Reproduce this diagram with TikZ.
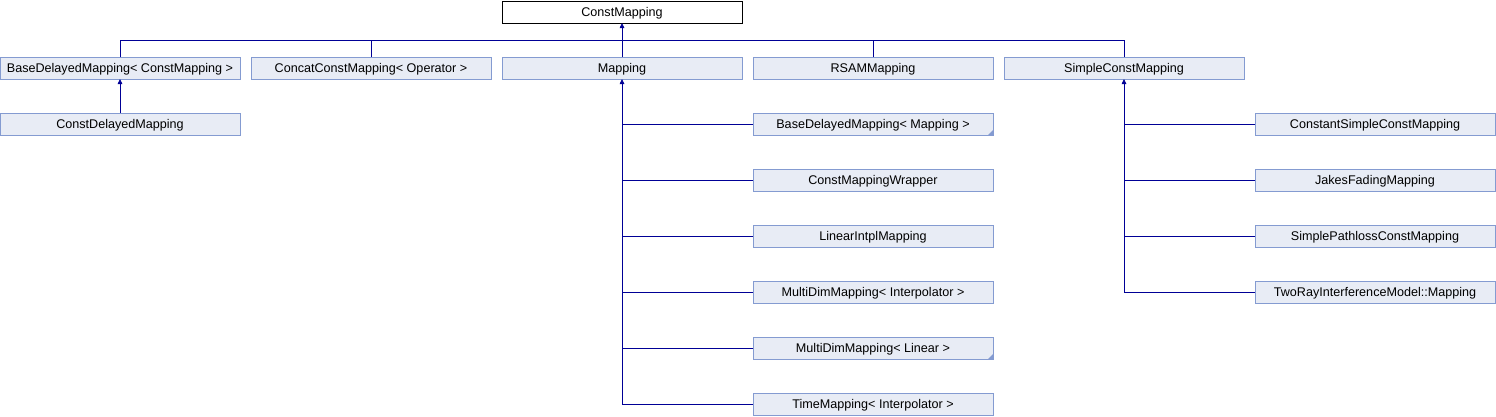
\documentclass[tikz,border=0pt]{standalone}
\usepackage{fontspec}
\usepackage{tikz}
\usetikzlibrary{positioning,arrows.meta}
\newfontfamily\dxfont{Liberation Sans}
\definecolor{dxFill}{RGB}{232,236,245}
\definecolor{dxBorder}{RGB}{132,155,209}
\definecolor{dxLine}{RGB}{0,0,150}

\begin{document}
\begin{tikzpicture}[
    x=1pt, y=-1pt,
    node distance=11pt,
    class node/.style={rectangle, draw=dxBorder, fill=dxFill, line width=0.8pt, minimum width=240pt, minimum height=22pt, inner sep=0pt, outer sep=0pt, text height=9pt, text depth=1pt, font=\dxfont\fontsize{12.6}{14}\selectfont},
    root node/.style={class node, draw=black, fill=white},
    more node/.style={class node, path picture={\fill[dxBorder] (path picture bounding box.south east) -- ++(-5pt,0) -- ++(5pt,5pt) -- cycle;}},
    link/.style={draw=dxLine, line width=0.8pt},
    inherit/.style={link, -{Triangle[length=5pt,width=4.5pt]}}
]
  \useasboundingbox (0,0) rectangle (1496,416);

  \node[root node] (cm) at (622,12) {ConstMapping};

  % second row
  \node[class node] (bdcm) at (120,68) {BaseDelayedMapping< ConstMapping >};
  \node[class node, right=of bdcm] (ccm) {ConcatConstMapping< Operator >};
  \node[class node, right=of ccm] (map) {Mapping};
  \node[class node, right=of map] (rsam) {RSAMMapping};
  \node[class node, right=of rsam] (scm) {SimpleConstMapping};

  \node[class node, below=34pt of bdcm] (cdm) {ConstDelayedMapping};

  % children of Mapping
  \node[more node] (bdm) at (873,124) {BaseDelayedMapping< Mapping >};
  \node[class node, below=34pt of bdm] (cmw) {ConstMappingWrapper};
  \node[class node, below=34pt of cmw] (lim) {LinearIntplMapping};
  \node[class node, below=34pt of lim] (mdmi) {MultiDimMapping< Interpolator >};
  \node[more node, below=34pt of mdmi] (mdml) {MultiDimMapping< Linear >};
  \node[class node, below=34pt of mdml] (tm) {TimeMapping< Interpolator >};

  % children of SimpleConstMapping
  \node[class node] (cscm) at (1375,124) {ConstantSimpleConstMapping};
  \node[class node, below=34pt of cscm] (jfm) {JakesFadingMapping};
  \node[class node, below=34pt of jfm] (spcm) {SimplePathlossConstMapping};
  \node[class node, below=34pt of spcm] (trim) {TwoRayInterferenceModel::Mapping};

  % bus to the root
  \coordinate (bus) at (622,40);
  \draw[link] (bdcm.north) |- (scm.north |- bus) -- (scm.north);
  \foreach \n in {ccm,rsam}
    \draw[link] (\n.north) -- (\n.north |- bus);
  \draw[inherit] (map.north) -- (cm.south);

  \draw[inherit] (cdm.north) -- (bdcm.south);

  \draw[inherit] (tm.west) -| (map.south);
  \foreach \n in {bdm,cmw,lim,mdmi,mdml}
    \draw[link] (\n.west) -- (\n.west -| map.south);

  \draw[inherit] (trim.west) -| (scm.south);
  \foreach \n in {cscm,jfm,spcm}
    \draw[link] (\n.west) -- (\n.west -| scm.south);
\end{tikzpicture}
\end{document}
